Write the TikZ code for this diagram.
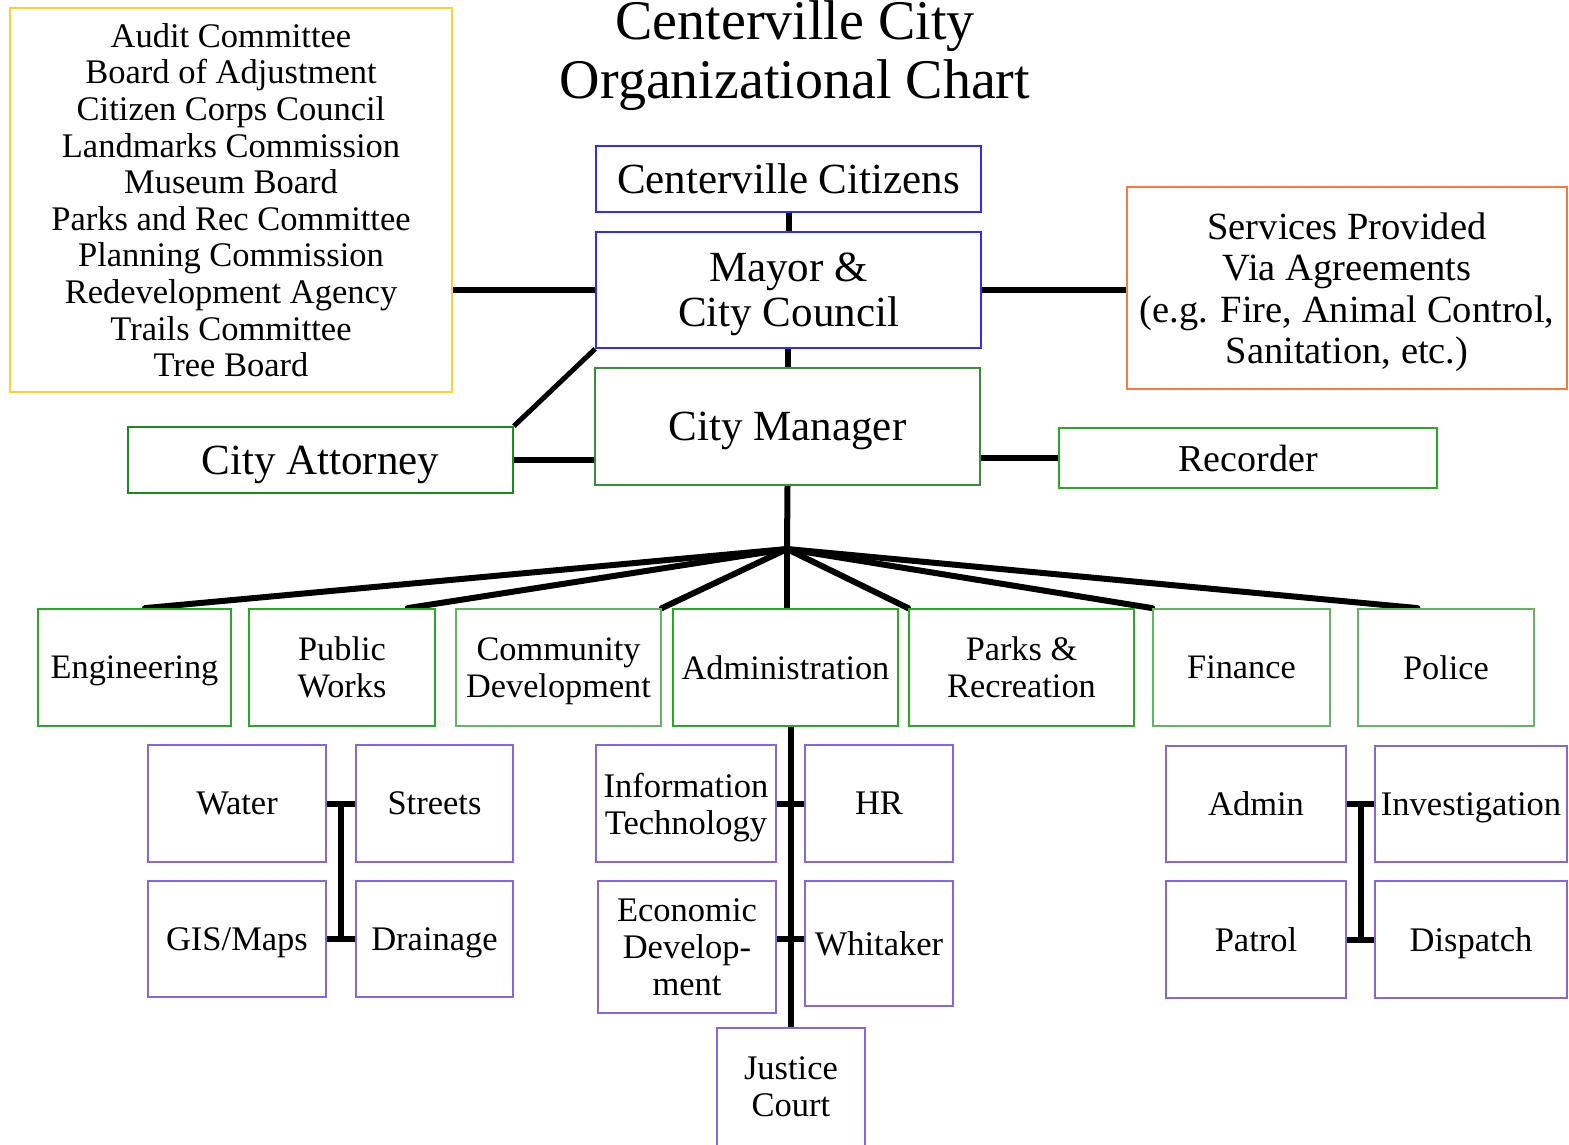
\documentclass[tikz,border=0pt]{standalone}
\usepackage{fontspec}
\setmainfont{Liberation Serif}
\usetikzlibrary{calc,backgrounds}
\newcommand{\fsz}[2]{\fontsize{#1}{#2}\selectfont}
\definecolor{cGold}{RGB}{255,205,60}
\definecolor{cBlue}{RGB}{45,45,255}
\definecolor{cOrange}{RGB}{255,120,55}
\definecolor{cGreenDark}{RGB}{60,140,60}
\definecolor{cGreen}{RGB}{40,170,40}
\definecolor{cGreenLight}{RGB}{100,180,100}
\definecolor{cPurple}{RGB}{135,100,225}
\begin{document}
\begin{tikzpicture}[x=1pt,y=-1pt,
  box/.style={draw, line width=1.8pt, inner sep=0pt, align=center, fill=white, text depth=0pt},
  topbox/.style={box, font=\fsz{43}{45}},
  deptbox/.style={box, draw=cGreen, minimum height=117pt, font=\fsz{34.3}{37}},
  subbox/.style={box, draw=cPurple, font=\fsz{34.5}{37}},
  link/.style={line width=6pt},
  spoke/.style={line width=6pt, line cap=round}]
\useasboundingbox (0,0) rectangle (1569,1145);

% title
\node[anchor=base, font=\fsz{56}{61}] (title1) at (795,40) {Centerville City};
\node[anchor=base, font=\fsz{56}{61}] (title2) at (795,99) {Organizational Chart};

% boards and committees
\node[box, draw=cGold, minimum width=442pt, minimum height=384pt, font=\fsz{34.5}{36.6}] (comm) at (231,200)
  {Audit Committee\\Board of Adjustment\\Citizen Corps Council\\Landmarks Commission\\Museum Board\\Parks and Rec Committee\\Planning Commission\\Redevelopment Agency\\Trails Committee\\Tree Board};

% top of the chart
\node[topbox, draw=cBlue, minimum width=385pt, minimum height=66pt] (cit) at (788.5,179) {Centerville Citizens};
\node[topbox, draw=cBlue, minimum width=385pt, minimum height=116pt] (mayor) at (788.5,290) {Mayor \&\\City Council};
\node[topbox, draw=cGreenDark, minimum width=385pt, minimum height=117pt] (mgr) at (787.5,426.5) {City Manager};
\node[box, draw=cOrange, minimum width=440pt, minimum height=202pt, font=\fsz{38.5}{41.5}] (serv) at (1347,288)
  {Services Provided\\Via Agreements\\(e.g. Fire, Animal Control,\\Sanitation, etc.)};
\node[topbox, draw=cGreen!80!black, minimum width=385pt, minimum height=66pt] (att) at (320.5,460) {City Attorney};
\node[box, draw=cGreen, minimum width=378pt, minimum height=60pt, font=\fsz{38}{41}] (rec) at (1248,458) {Recorder};

% departments
\node[deptbox, minimum width=193pt] (eng) at (134.5,667.5) {Engineering};
\node[deptbox, minimum width=186pt] (pw) at (342,667.5) {Public\\Works};
\node[deptbox, draw=cGreenLight, minimum width=205pt] (cd) at (558.5,667.5) {Community\\Development};
\node[deptbox, minimum width=225pt] (adm) at (785.5,667.5) {Administration};
\node[deptbox, minimum width=225pt] (parks) at (1021.5,667.5) {Parks \&\\Recreation};
\node[deptbox, draw=cGreenLight, minimum width=177pt] (fin) at (1241.5,667.5) {Finance};
\node[deptbox, draw=cGreenLight, minimum width=176pt] (pol) at (1446,667.5) {Police};

% public works divisions
\node[subbox, minimum width=178pt, minimum height=117pt] (water) at (237,803.5) {Water};
\node[subbox, minimum width=157pt, minimum height=117pt] (streets) at (434.5,803.5) {Streets};
\node[subbox, minimum width=178pt, minimum height=116pt] (gis) at (237,939) {GIS/Maps};
\node[subbox, minimum width=157pt, minimum height=116pt] (drain) at (434.5,939) {Drainage};

% administration divisions
\node[subbox, minimum width=180pt, minimum height=117pt] (it) at (686,803.5) {Information\\Technology};
\node[subbox, minimum width=148pt, minimum height=117pt] (hr) at (879,803.5) {HR};
\node[subbox, minimum width=178pt, minimum height=132pt] (econ) at (687,947) {Economic\\Develop-\\ment};
\node[subbox, minimum width=148pt, minimum height=125pt] (whit) at (879,943.5) {Whitaker};
\node[subbox, minimum width=148pt, minimum height=118pt] (court) at (791,1087) {Justice\\Court};

% police divisions
\node[subbox, minimum width=180pt, minimum height=116pt] (padm) at (1256,804) {Admin};
\node[subbox, minimum width=192pt, minimum height=116pt] (inv) at (1471,804) {Investigation};
\node[subbox, minimum width=180pt, minimum height=117pt] (patrol) at (1256,939.5) {Patrol};
\node[subbox, minimum width=192pt, minimum height=117pt] (disp) at (1471,939.5) {Dispatch};

\begin{scope}[on background layer]
% upper connectors
\draw[link] (cit.south) -- (mayor.north -| cit.south);
\draw[link] (mayor.south -| mgr.north) -- (mgr.north);
\draw[link] (mayor.west -| comm.east) -- (mayor.west);
\draw[link] (mayor.east) -- (mayor.east -| serv.west);
\draw[link] (att.east) -- (att.east -| mgr.west);
\draw[link] (rec.west -| mgr.east) -- (rec.west);
\draw[line width=5pt] (att.north east) -- (mayor.south west);

% fan out to the departments
\coordinate (hub) at (787,549);
\draw[link] (mgr.south) -- (hub);
\draw[spoke] (hub) -- ($(eng.north west)!0.554!(eng.north east)$);
\draw[spoke] (hub) -- ($(pw.north west)!0.85!(pw.north east)$);
\draw[spoke] (hub) -- (cd.north east);
\draw[spoke] (hub) -- (hub |- adm.north);
\draw[spoke] (hub) -- (parks.north west);
\draw[spoke] (hub) -- (fin.north west);
\draw[spoke] (hub) -- ($(pol.north west)!0.34!(pol.north east)$);

% public works branch
\draw[link] ($(water.east)!0.5!(streets.west)$ |- pw.south) -- ($(gis.east)!0.5!(drain.west)$);
\draw[link] (water.east) -- (streets.west);
\draw[link] (gis.east) -- (drain.west);

% administration branch
\draw[link] (court.north |- adm.south) -- (court.north);
\draw[link] (it.east) -- (hr.west);
\draw[link] (econ.east |- gis.east) -- (whit.west |- gis.east);

% police branch
\draw[link] ($(padm.east)!0.5!(inv.west)$ |- pol.south) -- ($(patrol.east)!0.5!(disp.west)$);
\draw[link] (padm.east) -- (inv.west);
\draw[link] (patrol.east) -- (disp.west);
\end{scope}
\end{tikzpicture}
\end{document}
